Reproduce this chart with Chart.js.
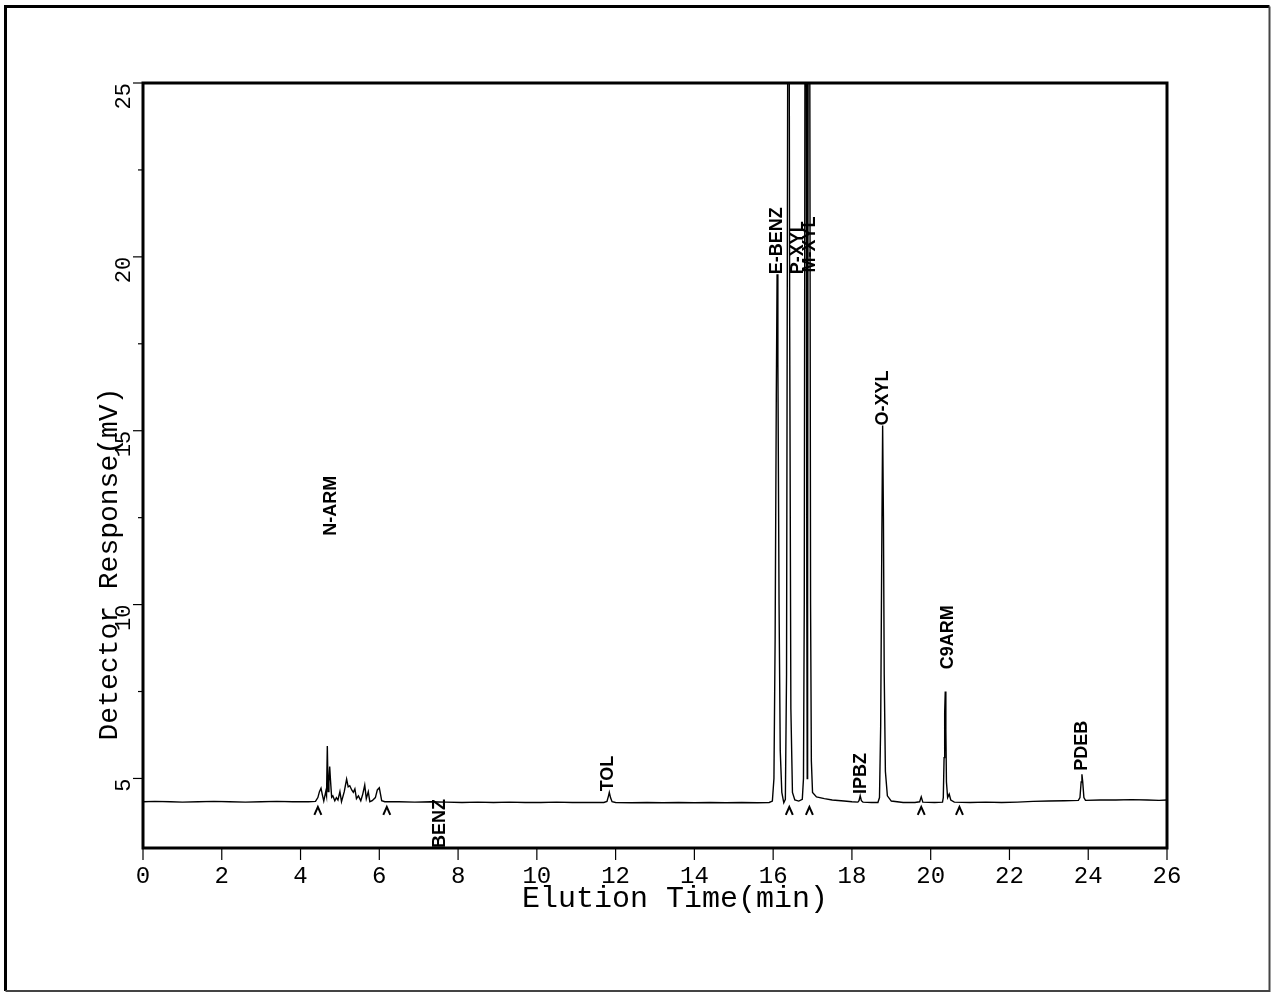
<!DOCTYPE html>
<html>
<head>
<meta charset="utf-8">
<script src="https://cdn.jsdelivr.net/npm/chart.js@4.4.1/dist/chart.umd.min.js"></script>
<style>
html,body{margin:0;padding:0;background:#fff;overflow:hidden;}
canvas{display:block;}
</style>
</head>
<body>
<canvas id="c" width="1271" height="993"></canvas>
<script>
// ---- Data ----
const timeMin = [
 0, 0.3, 0.7, 1.0, 1.4, 1.8, 2.2, 2.6, 3.0, 3.4, 3.8, 4.2, 4.38,
 4.44, 4.48, 4.52, 4.55, 4.59, 4.64, 4.66, 4.68, 4.70, 4.72, 4.74, 4.76, 4.79, 4.82, 4.87, 4.91, 4.95, 5.0, 5.04, 5.11, 5.17, 5.21, 5.25, 5.30, 5.34, 5.38, 5.42, 5.47, 5.53, 5.58, 5.63, 5.67, 5.72, 5.76, 5.82, 5.90, 5.95, 6.0, 6.03, 6.06, 6.14,
 6.5, 6.9, 7.3, 7.7, 8.1, 8.5, 8.9, 9.3, 9.7, 10.1, 10.5, 10.9, 11.3, 11.7,
 11.78, 11.82, 11.84, 11.87, 11.91, 12.0,
 12.4, 12.8, 13.2, 13.6, 14.0, 14.4, 14.8, 15.2, 15.6, 15.9,
 15.98, 16.02, 16.05, 16.08, 16.10, 16.12, 16.15, 16.18, 16.22, 16.27,
 16.31, 16.34, 16.36, 16.39, 16.42, 16.45, 16.49, 16.55, 16.65, 16.74,
 16.77, 16.79, 16.81, 16.82, 16.84, 16.855, 16.865, 16.875, 16.89, 16.91, 16.93, 16.95, 16.97, 17.0, 17.1, 17.3, 17.5, 17.8, 18.0, 18.15,
 18.18, 18.21, 18.24, 18.28, 18.5, 18.66,
 18.70, 18.73, 18.76, 18.78, 18.80, 18.82, 18.85, 18.9, 19.0, 19.3, 19.6,
 19.72, 19.76, 19.80,
 20.1, 20.3,
 20.32, 20.34, 20.355, 20.37, 20.385, 20.40, 20.43, 20.47, 20.51, 20.6,
 21.0, 21.4, 21.8, 22.2, 22.6, 23.0, 23.4, 23.75,
 23.79, 23.82, 23.84, 23.86, 23.89, 23.93,
 24.3, 24.7, 25.1, 25.5, 25.8, 26.0
];
const responseMV = [
 4.33, 4.34, 4.33, 4.32, 4.33, 4.34, 4.33, 4.32, 4.33, 4.34, 4.33, 4.33, 4.34,
 4.45, 4.62, 4.72, 4.55, 4.35, 4.62, 4.50, 5.93, 4.62, 4.90, 5.34, 4.96, 4.46, 4.50, 4.36, 4.45, 4.38, 4.62, 4.33, 4.62, 4.98, 4.76, 4.79, 4.67, 4.60, 4.70, 4.42, 4.50, 4.36, 4.55, 4.81, 4.42, 4.62, 4.33, 4.36, 4.45, 4.67, 4.73, 4.55, 4.36, 4.33,
 4.33, 4.32, 4.33, 4.32, 4.31, 4.32, 4.31, 4.32, 4.31, 4.31, 4.32, 4.31, 4.31, 4.31,
 4.34, 4.50, 4.60, 4.45, 4.33, 4.31,
 4.30, 4.31, 4.30, 4.31, 4.30, 4.31, 4.30, 4.31, 4.30, 4.31,
 4.35, 5.0, 9.0, 16.0, 19.5, 17.0, 10.0, 5.8, 4.6, 4.30,
 4.40, 8.0, 20.0, 38.0, 18.0, 7.0, 4.6, 4.38, 4.35, 4.40,
 5.0, 10.0, 28.0, 40.0, 28.0, 10.0, 5.0, 10.0, 28.0, 42.0, 26.0, 10.0, 5.5, 4.6, 4.47, 4.42, 4.38, 4.35, 4.33, 4.32,
 4.36, 4.50, 4.36, 4.32, 4.31, 4.31,
 4.45, 6.5, 12.0, 15.15, 12.5, 8.0, 5.2, 4.5, 4.35, 4.31, 4.31,
 4.33, 4.47, 4.32,
 4.31, 4.32,
 4.45, 5.6, 6.9, 7.5, 6.4, 4.9, 4.45, 4.55, 4.38, 4.32,
 4.31, 4.32, 4.31, 4.32, 4.34, 4.35, 4.36, 4.37,
 4.45, 4.90, 5.12, 4.90, 4.45, 4.37,
 4.38, 4.38, 4.39, 4.38, 4.37, 4.38
];

const peakNames = ['N-ARM', 'BENZ', 'TOL', 'E-BENZ', 'P-XYL', 'M-XYL', 'IPBZ', 'O-XYL', 'C9ARM', 'PDEB'];
const peakLabelTimes = [4.78, 7.54, 11.81, 16.11, 16.63, 16.94, 18.22, 18.79, 20.43, 23.85];
const peakLabelLevels = [11.98, 3.0, 4.63, 19.5, 19.5, 19.55, 4.55, 15.15, 8.14, 5.22];

const caretTimes = [4.44, 6.19, 16.41, 16.92, 19.76, 20.73];
const caretLevel = 4.18;

const xTickValues = [0, 2, 4, 6, 8, 10, 12, 14, 16, 18, 20, 22, 24, 26];
const yMajorTicks = [5, 10, 15, 20, 25];
const yMinorTicks = [7.5, 12.5, 17.5, 22.5];

const xTitle = 'Elution Time(min)';
const yTitle = 'Detector Response(mV)';

const points = timeMin.map((t, i) => ({ x: t, y: responseMV[i] }));

const decorPlugin = {
  id: 'decor',
  afterDraw(chart) {
    const ctx = chart.ctx;
    const xs = chart.scales.x, ys = chart.scales.y;
    const a = chart.chartArea;
    ctx.save();
    // outer border
    ctx.strokeStyle = '#000';
    ctx.lineWidth = 3;
    ctx.beginPath();
    ctx.moveTo(5.5, 991); ctx.lineTo(5.5, 6.5); ctx.lineTo(1269.5, 6.5);
    ctx.stroke();
    ctx.strokeStyle = '#444';
    ctx.lineWidth = 2;
    ctx.beginPath();
    ctx.moveTo(1269.5, 6.5); ctx.lineTo(1269.5, 991); ctx.lineTo(5.5, 991);
    ctx.stroke();

    // plot frame
    ctx.strokeStyle = '#000';
    ctx.lineWidth = 3;
    ctx.strokeRect(a.left, a.top, a.right - a.left, a.bottom - a.top);

    // x ticks
    ctx.lineWidth = 1.2;
    ctx.fillStyle = '#000';
    ctx.font = '24px "Liberation Mono", "DejaVu Sans Mono", monospace';
    ctx.textAlign = 'center';
    ctx.textBaseline = 'middle';
    xTickValues.forEach(v => {
      const px = xs.getPixelForValue(v);
      ctx.beginPath();
      ctx.moveTo(px, a.bottom); ctx.lineTo(px, a.bottom + 12);
      ctx.stroke();
      ctx.fillText(String(v), px, a.bottom + 29);
    });

    // y ticks
    yMinorTicks.forEach(v => {
      const py = ys.getPixelForValue(v);
      ctx.beginPath();
      ctx.moveTo(a.left - 5, py); ctx.lineTo(a.left, py);
      ctx.stroke();
    });
    ctx.font = '22px "Liberation Mono", "DejaVu Sans Mono", monospace';
    yMajorTicks.forEach(v => {
      const py = ys.getPixelForValue(v);
      ctx.beginPath();
      ctx.moveTo(a.left - 10, py); ctx.lineTo(a.left, py);
      ctx.stroke();
      ctx.save();
      ctx.translate(a.left - 19, py);
      ctx.rotate(-Math.PI / 2);
      ctx.textAlign = 'right';
      ctx.textBaseline = 'middle';
      ctx.fillText(String(v), 0, 0);
      ctx.restore();
    });

    // axis titles
    ctx.font = '30px "Liberation Mono", "DejaVu Sans Mono", monospace';
    ctx.textAlign = 'center';
    ctx.textBaseline = 'middle';
    ctx.fillText(xTitle, 675, a.bottom + 51);
    ctx.save();
    ctx.font = '28px "Liberation Mono", "DejaVu Sans Mono", monospace';
    ctx.translate(110, 564);
    ctx.rotate(-Math.PI / 2);
    ctx.fillText(yTitle, 0, 0);
    ctx.restore();

    // peak labels
    ctx.font = 'bold 18px "Liberation Sans", Arial, sans-serif';
    peakNames.forEach((name, i) => {
      const px = xs.getPixelForValue(peakLabelTimes[i]);
      const py = ys.getPixelForValue(peakLabelLevels[i]);
      ctx.save();
      ctx.translate(px, py);
      ctx.rotate(-Math.PI / 2);
      ctx.textAlign = 'left';
      ctx.textBaseline = 'middle';
      ctx.fillText(name, 0, 0);
      ctx.restore();
    });

    // integration carets
    ctx.lineWidth = 2;
    caretTimes.forEach(t => {
      const px = xs.getPixelForValue(t);
      const py = ys.getPixelForValue(caretLevel);
      ctx.beginPath();
      ctx.moveTo(px - 3.5, py + 8);
      ctx.lineTo(px, py);
      ctx.lineTo(px + 3.5, py + 8);
      ctx.stroke();
    });
    ctx.restore();
  }
};

new Chart(document.getElementById('c'), {
  type: 'line',
  data: {
    datasets: [{
      data: points,
      borderColor: '#000',
      borderWidth: 1.4,
      pointRadius: 0,
      tension: 0,
      fill: false
    }]
  },
  options: {
    responsive: false,
    animation: false,
    devicePixelRatio: 1,
    layout: { padding: { left: 143, top: 83, right: 104, bottom: 145 } },
    plugins: { legend: { display: false }, tooltip: { enabled: false } },
    scales: {
      x: { type: 'linear', min: 0, max: 26, display: false },
      y: { type: 'linear', min: 3, max: 25, display: false }
    }
  },
  plugins: [decorPlugin]
});
</script>
</body>
</html>
